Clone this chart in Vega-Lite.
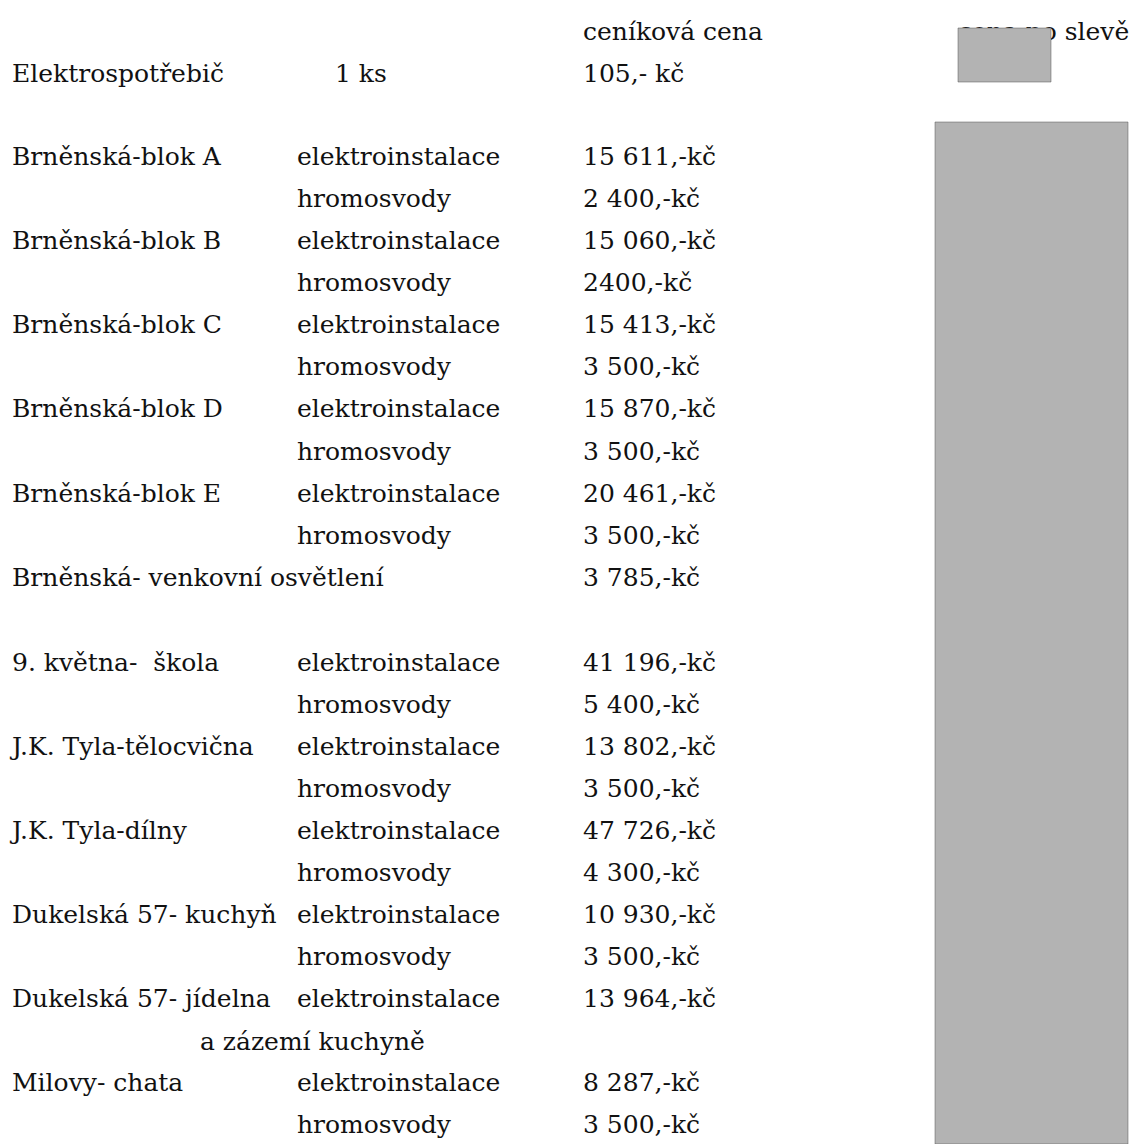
{
  "$schema": "https://vega.github.io/schema/vega-lite/v6.json",
  "width": 1138,
  "height": 1144,
  "padding": 0,
  "autosize": {"type": "none"},
  "background": "white",
  "config": {"view": {"stroke": null}},
  "datasets": {
    "patches": [
      {"name": "top", "x0": 958, "x1": 1051, "y0": 28, "y1": 82},
      {"name": "column", "x0": 935, "x1": 1128, "y0": 122, "y1": 1144}
    ],
    "texts": [
      {"col": 583, "row": 40, "label": "ceníková cena"},
      {"col": 958, "row": 40, "label": "cena po slevě"},
      {"col": 12, "row": 82, "label": "Elektrospotřebič"},
      {"col": 335, "row": 82, "label": "1 ks"},
      {"col": 583, "row": 82, "label": "105,- kč"},
      {"col": 12, "row": 165, "label": "Brněnská-blok A"},
      {"col": 297, "row": 165, "label": "elektroinstalace"},
      {"col": 583, "row": 165, "label": "15 611,-kč"},
      {"col": 297, "row": 207, "label": "hromosvody"},
      {"col": 583, "row": 207, "label": "2 400,-kč"},
      {"col": 12, "row": 249, "label": "Brněnská-blok B"},
      {"col": 297, "row": 249, "label": "elektroinstalace"},
      {"col": 583, "row": 249, "label": "15 060,-kč"},
      {"col": 297, "row": 291, "label": "hromosvody"},
      {"col": 583, "row": 291, "label": "2400,-kč"},
      {"col": 12, "row": 333, "label": "Brněnská-blok C"},
      {"col": 297, "row": 333, "label": "elektroinstalace"},
      {"col": 583, "row": 333, "label": "15 413,-kč"},
      {"col": 297, "row": 375, "label": "hromosvody"},
      {"col": 583, "row": 375, "label": "3 500,-kč"},
      {"col": 12, "row": 417, "label": "Brněnská-blok D"},
      {"col": 297, "row": 417, "label": "elektroinstalace"},
      {"col": 583, "row": 417, "label": "15 870,-kč"},
      {"col": 297, "row": 460, "label": "hromosvody"},
      {"col": 583, "row": 460, "label": "3 500,-kč"},
      {"col": 12, "row": 502, "label": "Brněnská-blok E"},
      {"col": 297, "row": 502, "label": "elektroinstalace"},
      {"col": 583, "row": 502, "label": "20 461,-kč"},
      {"col": 297, "row": 544, "label": "hromosvody"},
      {"col": 583, "row": 544, "label": "3 500,-kč"},
      {"col": 12, "row": 586, "label": "Brněnská- venkovní osvětlení"},
      {"col": 583, "row": 586, "label": "3 785,-kč"},
      {"col": 12, "row": 671, "label": "9. května- \u00a0škola"},
      {"col": 297, "row": 671, "label": "elektroinstalace"},
      {"col": 583, "row": 671, "label": "41 196,-kč"},
      {"col": 297, "row": 713, "label": "hromosvody"},
      {"col": 583, "row": 713, "label": "5 400,-kč"},
      {"col": 12, "row": 755, "label": "J.K. Tyla-tělocvična"},
      {"col": 297, "row": 755, "label": "elektroinstalace"},
      {"col": 583, "row": 755, "label": "13 802,-kč"},
      {"col": 297, "row": 797, "label": "hromosvody"},
      {"col": 583, "row": 797, "label": "3 500,-kč"},
      {"col": 12, "row": 839, "label": "J.K. Tyla-dílny"},
      {"col": 297, "row": 839, "label": "elektroinstalace"},
      {"col": 583, "row": 839, "label": "47 726,-kč"},
      {"col": 297, "row": 881, "label": "hromosvody"},
      {"col": 583, "row": 881, "label": "4 300,-kč"},
      {"col": 12, "row": 923, "label": "Dukelská 57- kuchyň"},
      {"col": 297, "row": 923, "label": "elektroinstalace"},
      {"col": 583, "row": 923, "label": "10 930,-kč"},
      {"col": 297, "row": 965, "label": "hromosvody"},
      {"col": 583, "row": 965, "label": "3 500,-kč"},
      {"col": 12, "row": 1007, "label": "Dukelská 57- jídelna"},
      {"col": 297, "row": 1007, "label": "elektroinstalace"},
      {"col": 583, "row": 1007, "label": "13 964,-kč"},
      {"col": 200, "row": 1050, "label": "a zázemí kuchyně"},
      {"col": 12, "row": 1091, "label": "Milovy- chata"},
      {"col": 297, "row": 1091, "label": "elektroinstalace"},
      {"col": 583, "row": 1091, "label": "8 287,-kč"},
      {"col": 297, "row": 1133, "label": "hromosvody"},
      {"col": 583, "row": 1133, "label": "3 500,-kč"}
    ]
  },
  "layer": [
    {
      "data": {"name": "texts"},
      "mark": {"type": "text", "align": "left", "baseline": "alphabetic", "font": "DejaVu Serif", "fontSize": 25, "color": "#111111"},
      "encoding": {
        "x": {"field": "col", "type": "quantitative", "scale": {"domain": [0, 1138], "nice": false, "zero": false}, "axis": null},
        "y": {"field": "row", "type": "quantitative", "scale": {"domain": [0, 1144], "nice": false, "zero": false, "reverse": true}, "axis": null},
        "text": {"field": "label", "type": "nominal"}
      }
    },
    {
      "data": {"name": "patches"},
      "mark": {"type": "rect", "color": "#b3b3b3", "stroke": "#555555", "strokeWidth": 0.5},
      "encoding": {
        "x": {"field": "x0", "type": "quantitative", "scale": {"domain": [0, 1138], "nice": false, "zero": false}, "axis": null},
        "x2": {"field": "x1"},
        "y": {"field": "y0", "type": "quantitative", "scale": {"domain": [0, 1144], "nice": false, "zero": false, "reverse": true}, "axis": null},
        "y2": {"field": "y1"}
      }
    }
  ]
}
